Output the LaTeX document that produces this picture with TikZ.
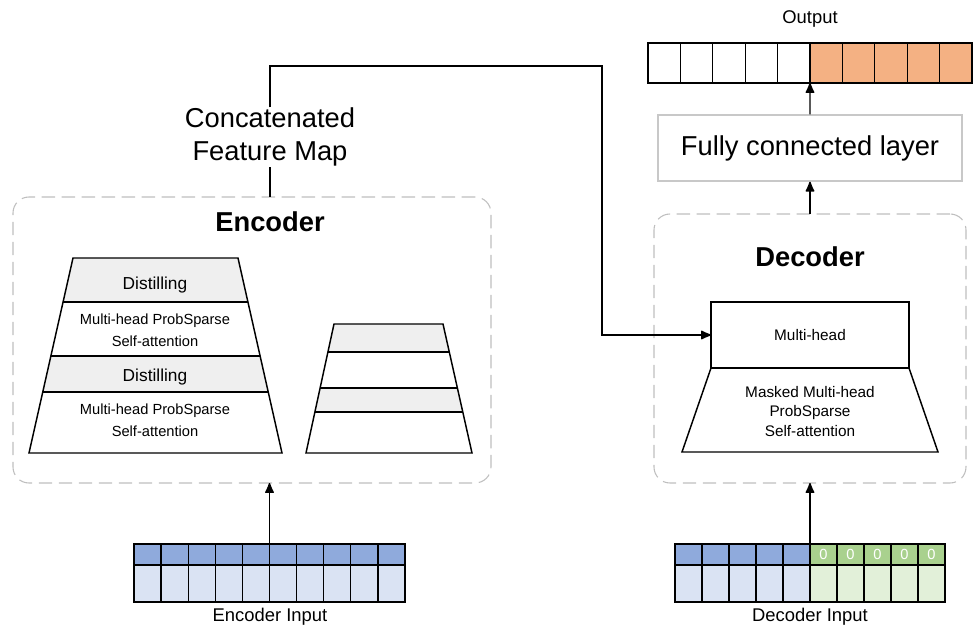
\documentclass[tikz,border=0pt]{standalone}
\usepackage{fontspec}
\setmainfont{Liberation Sans}
\usetikzlibrary{arrows.meta}
\definecolor{outorange}{HTML}{F4B183}
\definecolor{bluetop}{HTML}{8FAADC}
\definecolor{bluelow}{HTML}{DAE3F3}
\definecolor{greentop}{HTML}{A9D18E}
\definecolor{greenlow}{HTML}{E2F0D9}
\definecolor{bandgray}{HTML}{EFEFEF}
\definecolor{dashgray}{HTML}{BFBFBF}
\definecolor{fcgray}{HTML}{C8C8C8}
\tikzset{arr/.style={line width=1.1pt, arrows={-Latex[length=9pt,width=7.5pt,round=false]}}}
\begin{document}
\begin{tikzpicture}[x=0.75pt,y=-0.75pt,
  dbox/.style={draw=dashgray, line width=0.8pt, dash pattern=on 10pt off 5pt, rounded corners=12pt, inner sep=0, outer sep=0},
  big/.style={font=\fontsize{20.5}{24.75}\selectfont, align=center, inner sep=0},
  title/.style={font=\bfseries\fontsize{20.5}{24}\selectfont, inner sep=0},
  small/.style={font=\fontsize{11}{16.5}\selectfont, align=center, inner sep=0},
  mid/.style={font=\fontsize{13}{16}\selectfont, inner sep=0},
  caption/.style={font=\fontsize{13.8}{16}\selectfont, inner sep=0},
  cell/.style={draw, line width=1pt, inner sep=0, outer sep=0},
  trap/.style={draw, line width=1.1pt, line join=miter},
  conn/.style={line width=1.1pt}]
\useasboundingbox (0,0) rectangle (976,628);

% ---------------- Encoder box ----------------
\node[dbox, minimum width=358.5pt, minimum height=214.5pt] (enc) at (252,340) {};
\node[title] (enctitle) at (270,222) {Encoder};

% left trapezoid
\begin{scope}
  \clip (73,258) -- (238,258) -- (282,453) -- (29,453) -- cycle;
  \fill[bandgray] (0,258) rectangle (300,302);
  \fill[bandgray] (0,356) rectangle (300,392);
  \draw[line width=1pt] (0,302) -- (300,302);
  \draw[line width=1.6pt] (0,356) -- (300,356);
  \draw[line width=1pt] (0,392) -- (300,392);
\end{scope}
\draw[trap] (73,258) -- (238,258) -- (282,453) -- (29,453) -- cycle;
\node[mid] (d1) at (155,285) {Distilling};
\node[small] (m1) at (155,330) {Multi-head ProbSparse\\Self-attention};
\node[mid] (d2) at (155,377) {Distilling};
\node[small] (m2) at (155,420.5) {Multi-head ProbSparse\\Self-attention};

% right small trapezoid
\begin{scope}
  \clip (334,324) -- (443,324) -- (472,453) -- (306,453) -- cycle;
  \fill[bandgray] (300,324) rectangle (480,352);
  \fill[bandgray] (300,388) rectangle (480,412);
  \draw[line width=1pt] (300,352) -- (480,352);
  \draw[line width=1pt] (300,388) -- (480,388);
  \draw[line width=1pt] (300,412) -- (480,412);
\end{scope}
\draw[trap] (334,324) -- (443,324) -- (472,453) -- (306,453) -- cycle;

% concatenated feature map
\node[big] (cfm) at (270,137) {Concatenated\\Feature Map};
\coordinate (bend) at (602,66);

% ---------------- Decoder box ----------------
\node[dbox, minimum width=234pt, minimum height=201.75pt] (dec) at (810,348.5) {};
\node[title] (dectitle) at (810,257) {Decoder};
\node[draw, line width=1.1pt, minimum width=148.5pt, minimum height=49.5pt, inner sep=0, outer sep=0,
      font=\fontsize{11.5}{14}\selectfont] (mh) at (810,335) {Multi-head};
\draw[trap] (mh.south west) -- (mh.south east) -- (938,452) -- (682,452) -- cycle;
\node[font=\fontsize{11.5}{14.6}\selectfont, align=center, inner sep=0] (mmh) at (810,411.5)
  {Masked Multi-head\\ProbSparse\\Self-attention};

% fully connected layer
\node[draw=fcgray, line width=1pt, minimum width=228pt, minimum height=49.5pt, inner sep=0,
      font=\fontsize{20.5}{24}\selectfont] (fc) at (810,148) {Fully connected layer};

% output array
\foreach \i in {1,...,10} {
  \ifnum\i>5 \def\fcol{outorange}\else\def\fcol{white}\fi
  \pgfmathsetmacro\cx{648+32.4*(\i-0.5)}
  \node[cell, fill=\fcol, minimum width=24.3pt, minimum height=30pt] (o\i) at (\cx,63) {};
}
\node[caption] (outlbl) at (810,19) {Output};

% encoder input
\foreach \i in {1,...,10} {
  \pgfmathsetmacro\cx{134+27.1*(\i-0.5)}
  \node[cell, fill=bluetop, minimum width=20.33pt, minimum height=15.75pt] (et\i) at (\cx,554.5) {};
  \node[cell, fill=bluelow, minimum width=20.33pt, minimum height=27.75pt] (eb\i) at (\cx,583.5) {};
}
\node[caption] (eil) at (270,617) {Encoder Input};

% decoder input
\foreach \i in {1,...,10} {
  \pgfmathsetmacro\cx{675+27*(\i-0.5)}
  \ifnum\i>5
    \node[cell, fill=greentop, minimum width=20.25pt, minimum height=15.75pt, text=white,
          font=\fontsize{11}{12}\selectfont] (dt\i) at (\cx,554.5) {0};
    \node[cell, fill=greenlow, minimum width=20.25pt, minimum height=27.75pt] (db\i) at (\cx,583.5) {};
  \else
    \node[cell, fill=bluetop, minimum width=20.25pt, minimum height=15.75pt] (dt\i) at (\cx,554.5) {};
    \node[cell, fill=bluelow, minimum width=20.25pt, minimum height=27.75pt] (db\i) at (\cx,583.5) {};
  \fi
}
\node[caption] (dil) at (810,617) {Decoder Input};

% ---------------- connectors ----------------
\draw[conn] (cfm.south |- enc.north) -- (cfm.south);
\draw[arr] (cfm.north) |- (bend) |- (mh.west);
\draw[arr] (et5.north east) -- (et5.north east |- enc.south);
\draw[arr] (dt5.north east) -- (dt5.north east |- dec.south);
\draw[arr] (dec.north) -- (fc.south);
\draw[arr] (fc.north) -- (o5.south east);
\end{tikzpicture}
\end{document}
